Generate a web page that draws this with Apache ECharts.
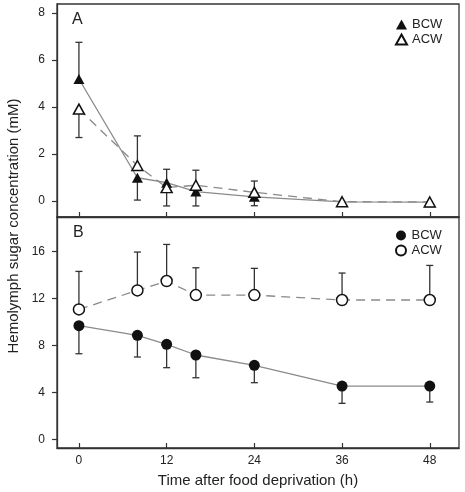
<!DOCTYPE html>
<html><head><meta charset="utf-8">
<script src="https://cdn.jsdelivr.net/npm/echarts@6/dist/echarts.min.js"></script>
<style>html,body{margin:0;padding:0;background:#fff}#c{width:465px;height:492px}</style>
</head><body><div id="c"></div>
<script>
const hours = [0, 8, 12, 16, 24, 36, 48];
const xTicks = [0, 12, 24, 36, 48];
const yTicksA = [0, 2, 4, 6, 8];
const yTicksB = [0, 4, 8, 12, 16];
// Panel A
const aBcw = [5.19, 0.99, 0.78, 0.40, 0.18, -0.04, -0.05];
const aBcwErr = [6.75, 0.04, 1.35, -0.21, -0.20, null, null];
const aAcw = [3.91, 1.51, 0.57, 0.67, 0.37, -0.03, -0.04];
const aAcwErr = [2.70, 2.77, -0.21, 1.31, 0.85, null, null];
// Panel B
const bBcw = [9.69, 8.87, 8.10, 7.19, 6.31, 4.54, 4.54];
const bBcwErr = [7.30, 7.02, 6.11, 5.25, 4.83, 3.07, 3.18];
const bAcw = [11.08, 12.70, 13.50, 12.30, 12.30, 11.88, 11.88];
const bAcwErr = [14.32, 15.97, 16.62, 14.63, 14.58, 14.18, 14.83];

const FONT = 'Liberation Sans, Arial, sans-serif';
const chart = echarts.init(document.getElementById('c'), null, {renderer: 'canvas'});

function pts(vals) { return hours.map((h, i) => [h, vals[i]]); }
function errData(vals, ends) {
  const out = [];
  hours.forEach((h, i) => { if (ends[i] !== null) out.push([h, vals[i], ends[i]]); });
  return out;
}
function errSeries(vals, ends, gi) {
  return {
    type: 'custom', xAxisIndex: gi, yAxisIndex: gi, z: 1, silent: true,
    data: errData(vals, ends),
    renderItem: function (params, api) {
      const p0 = api.coord([api.value(0), api.value(1)]);
      const p1 = api.coord([api.value(0), api.value(2)]);
      const w = 3.5;
      const st = {stroke: '#333', lineWidth: 1.3};
      return {type: 'group', children: [
        {type: 'line', shape: {x1: p0[0], y1: p0[1], x2: p1[0], y2: p1[1]}, style: st},
        {type: 'line', shape: {x1: p1[0] - w, y1: p1[1], x2: p1[0] + w, y2: p1[1]}, style: st}
      ]};
    }
  };
}
function lineSeries(name, vals, gi, symbol, filled, dashed) {
  return {
    name: name, type: 'line', xAxisIndex: gi, yAxisIndex: gi, z: 3,
    data: pts(vals), symbol: symbol,
    symbolSize: symbol === 'circle' ? 11 : [11, 10],
    showAllSymbol: true,
    lineStyle: {color: '#8a8a8a', width: 1.3, type: dashed ? [9, 6] : 'solid'},
    itemStyle: {color: filled ? '#111' : '#fff', borderColor: '#111', borderWidth: filled ? 0 : 1.5},
    emphasis: {disabled: true}
  };
}
const axisX = (gi) => ({
  type: 'value', gridIndex: gi, min: -3, max: 52, position: 'bottom',
  splitLine: {show: false},
  axisLine: {show: true, onZero: false, lineStyle: {color: '#333', width: 1.3}},
  axisTick: {show: true, inside: true, length: 5, customValues: xTicks, lineStyle: {color: '#333', width: 1.2}},
  axisLabel: {show: gi === 1, customValues: xTicks, margin: 7, color: '#222', fontSize: 12, fontFamily: FONT},
  name: gi === 1 ? 'Time after food deprivation (h)' : '',
  nameLocation: 'middle', nameGap: 25,
  nameTextStyle: {fontSize: 15, color: '#222', fontFamily: FONT}
});
const axisY = (gi, min, max, ticks) => ({
  type: 'value', gridIndex: gi, min: min, max: max, position: 'left',
  splitLine: {show: false},
  axisLine: {show: true, onZero: false, lineStyle: {color: '#333', width: 1.3}},
  axisTick: {show: true, inside: false, length: 5, customValues: ticks, lineStyle: {color: '#333', width: 1.2}},
  axisLabel: {customValues: ticks, margin: 12, color: '#222', fontSize: 12, fontFamily: FONT}
});
const legendBase = {
  orient: 'vertical', itemWidth: 11, itemHeight: 10, itemGap: 2, padding: 0, selectedMode: false,
  textStyle: {fontSize: 13, color: '#222', fontFamily: FONT},
  formatter: n => n.slice(2)
};

chart.setOption({
  animation: false,
  backgroundColor: '#fff',
  grid: [
    {left: 57, right: 6, top: 4, height: 213, show: true, borderColor: '#333', borderWidth: 1.3, backgroundColor: 'transparent'},
    {left: 57, right: 6, top: 217, height: 231, show: true, borderColor: '#333', borderWidth: 1.3, backgroundColor: 'transparent'}
  ],
  xAxis: [axisX(0), axisX(1)],
  yAxis: [axisY(0, -0.68, 8.38, yTicksA), axisY(1, -0.74, 18.96, yTicksB)],
  legend: [
    Object.assign({}, legendBase, {left: 395, top: 18, data: [{name: 'A BCW', icon: 'triangle'}, {name: 'A ACW', icon: 'triangle'}]}),
    Object.assign({}, legendBase, {left: 395, top: 229, data: [{name: 'B BCW', icon: 'circle'}, {name: 'B ACW', icon: 'circle'}]})
  ],
  graphic: [
    {type: 'text', left: 72, top: 12, style: {text: 'A', fontSize: 16, fill: '#222', fontFamily: FONT}},
    {type: 'text', left: 73, top: 225, style: {text: 'B', fontSize: 16, fill: '#222', fontFamily: FONT}},
    {type: 'text', x: 14, y: 226, rotation: Math.PI / 2,
     style: {text: 'Hemolymph sugar concentration (mM)', fontSize: 15, fill: '#222', fontFamily: FONT, align: 'center', verticalAlign: 'middle'}}
  ],
  series: [
    errSeries(aBcw, aBcwErr, 0),
    errSeries(aAcw, aAcwErr, 0),
    errSeries(bBcw, bBcwErr, 1),
    errSeries(bAcw, bAcwErr, 1),
    lineSeries('A BCW', aBcw, 0, 'triangle', true, false),
    lineSeries('A ACW', aAcw, 0, 'triangle', false, true),
    lineSeries('B BCW', bBcw, 1, 'circle', true, false),
    lineSeries('B ACW', bAcw, 1, 'circle', false, true)
  ]
});
</script></body></html>
